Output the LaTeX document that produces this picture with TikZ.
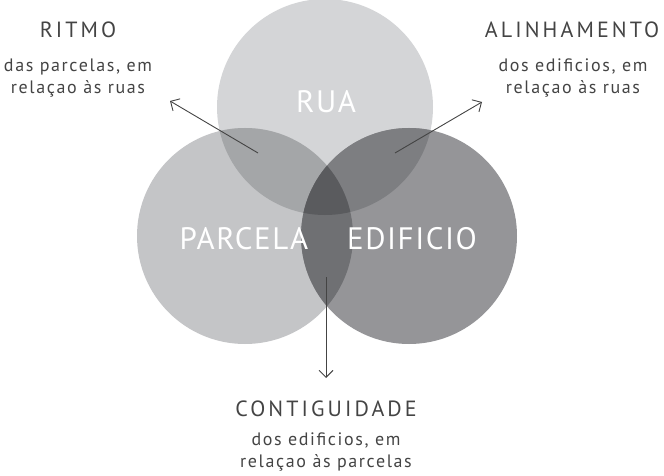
\documentclass[tikz,border=0pt]{standalone}
\usepackage{fontspec}
\setmainfont{PT Sans}
\usetikzlibrary{arrows.meta}
\definecolor{rua}{HTML}{D4D5D7}
\definecolor{parcela}{HTML}{C4C5C7}
\definecolor{edificio}{HTML}{959598}
\definecolor{ruaparcela}{HTML}{A4A6A8}
\definecolor{ruaedificio}{HTML}{7D7E81}
\definecolor{parcelaedificio}{HTML}{6F7073}
\definecolor{centro}{HTML}{5A5B5E}
\definecolor{texto}{HTML}{444444}
\tikzset{
	titulo/.style={text=texto,font=\fontsize{22}{26}\selectfont\addfontfeature{LetterSpace=14}},
	legenda/.style={text=texto,font=\fontsize{18}{22}\selectfont\addfontfeature{LetterSpace=9},align=center},
	circulo/.style={text=white,font=\fontsize{31}{35}\selectfont\addfontfeature{LetterSpace=5}},
	seta/.style={texto,line width=0.9pt,-{Straight Barb[length=7pt,width=14pt]}}
}
\begin{document}
\begin{tikzpicture}[x=1pt,y=-1pt]
	\useasboundingbox (0,0) rectangle (664,476);
\fill[rua] (325,107) circle (108pt);
\fill[parcela] (245,236) circle (108pt);
\fill[edificio] (409,236) circle (108pt);
\begin{scope}
	\clip (325,107) circle (108pt);
	\fill[ruaparcela] (245,236) circle (108pt);
	\fill[ruaedificio] (409,236) circle (108pt);
\end{scope}
\begin{scope}
	\clip (245,236) circle (108pt);
	\fill[parcelaedificio] (409,236) circle (108pt);
	\clip (409,236) circle (108pt);
	\fill[centro] (325,107) circle (108pt);
\end{scope}
\node[circulo] (rua) at (326,102) {RUA};
\node[circulo] (parcela) at (244,239) {PARCELA};
\node[circulo] (edificio) at (412,239) {EDIFICIO};
\node[titulo] (ritmo) at (78,30) {RITMO};
\node[legenda] (ritmoleg) at (78,78) {das parcelas, em\\relaçao às ruas};
\node[titulo] (alinhamento) at (572,30) {ALINHAMENTO};
\node[legenda] (alinhamentoleg) at (573,78) {dos edificios, em\\relaçao às ruas};
\node[titulo] (contiguidade) at (326,409) {CONTIGUIDADE};
\node[legenda] (contiguidadeleg) at (326,452) {dos edificios, em\\relaçao às parcelas};
\coordinate (a1) at (258,153);
\coordinate (b1) at (170,101);
\coordinate (a2) at (395,153);
\coordinate (b2) at (482,102);
\coordinate (a3) at (326,277);
\coordinate (b3) at (326,378);
\draw[seta] (a1) -- (b1);
\draw[seta] (a2) -- (b2);
\draw[seta] (a3) -- (b3);
\end{tikzpicture}
\end{document}
